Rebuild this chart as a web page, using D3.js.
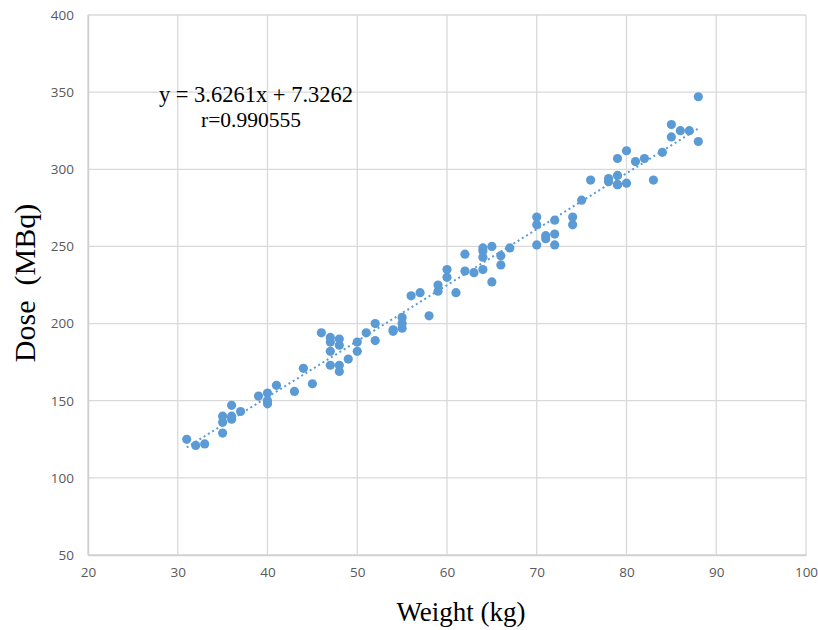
<!DOCTYPE html>
<html>
<head>
<meta charset="utf-8">
<script src="https://cdn.jsdelivr.net/npm/d3@7"></script>
<style>
  html, body { margin: 0; padding: 0; background: #fff; }
  svg { display: block; }
</style>
</head>
<body>
<script>
// ---- data ----
const weights = [31,32,33,35,35,35,36,36,36,37,39,40,40,40,41,43,44,45,46,47,47,47,47,48,48,48,48,49,50,50,51,52,52,54,54,55,55,55,56,57,58,59,59,60,60,61,62,62,63,64,64,64,64,65,65,66,66,67,70,70,70,71,71,72,72,72,74,74,75,76,78,78,79,79,79,79,80,80,81,82,83,84,85,85,86,87,88,88];
const doses   = [125,121,122,129,136,140,147,140,138,143,153,155,150,148,160,156,171,161,194,191,188,182,173,190,186,173,169,177,188,182,194,200,189,195,196,204,200,197,218,220,205,225,221,235,230,220,245,234,233,249,247,243,235,250,227,244,238,249,269,264,251,257,255,267,258,251,269,264,280,293,294,292,307,296,290,290,312,291,305,307,293,311,329,321,325,325,347,318];
const xTicks = [20,30,40,50,60,70,80,90,100];
const yTicks = [50,100,150,200,250,300,350,400];
const slope = 3.6261, intercept = 7.3262;
const equationText = "y = 3.6261x + 7.3262";
const rText = "r=0.990555";
const xTitle = "Weight (kg)";
const yTitle = "Dose  (MBq)";

const W = 818, H = 630;
const m = {left: 88, right: 12, top: 15, bottom: 75};
const svg = d3.select("body").append("svg").attr("width", W).attr("height", H);

const x = d3.scaleLinear().domain([20, 100]).range([m.left, W - m.right]);
const y = d3.scaleLinear().domain([50, 400]).range([H - m.bottom, m.top]);

const gridColor = "#d9d9d9";
const tickColor = "#595959";
const dotColor = "#5b9bd5";

// gridlines
svg.append("g").selectAll("line.v").data(xTicks).join("line")
  .attr("x1", d => x(d)).attr("x2", d => x(d))
  .attr("y1", y(400)).attr("y2", y(50))
  .attr("stroke", gridColor).attr("stroke-width", 1.3);
svg.append("g").selectAll("line.h").data(yTicks).join("line")
  .attr("x1", x(20)).attr("x2", x(100))
  .attr("y1", d => y(d)).attr("y2", d => y(d))
  .attr("stroke", gridColor).attr("stroke-width", 1.3);

// axes
const xAxis = d3.axisBottom(x).tickValues(xTicks).tickSize(0).tickPadding(12);
const gx = svg.append("g").attr("transform", `translate(0,${y(50)})`).call(xAxis);
gx.select(".domain").attr("stroke", "#cfcfcf").attr("stroke-width", 1.5);
gx.selectAll("text").attr("fill", tickColor).style("font-family", "'Open Sans', 'Noto Sans', sans-serif").style("font-size", "13.5px");

const yAxis = d3.axisLeft(y).tickValues(yTicks).tickSize(0).tickPadding(14);
const gy = svg.append("g").attr("transform", `translate(${x(20)},0)`).call(yAxis);
gy.select(".domain").attr("stroke", "#cfcfcf").attr("stroke-width", 1.5);
gy.selectAll("text").attr("fill", tickColor).style("font-family", "'Open Sans', 'Noto Sans', sans-serif").style("font-size", "13.5px");

// trendline (dotted)
const xMin = d3.min(weights), xMax = d3.max(weights);
svg.append("line")
  .attr("x1", x(xMin)).attr("y1", y(slope * xMin + intercept))
  .attr("x2", x(xMax)).attr("y2", y(slope * xMax + intercept))
  .attr("stroke", dotColor).attr("stroke-width", 2)
  .attr("stroke-dasharray", "2,3");

// points
svg.append("g").selectAll("circle").data(weights.map((w, i) => [w, doses[i]])).join("circle")
  .attr("cx", d => x(d[0])).attr("cy", d => y(d[1]))
  .attr("r", 4.6).attr("fill", dotColor);

// equation text
const serif = "'Liberation Serif', 'Times New Roman', serif";
svg.append("text").attr("x", 256).attr("y", 102).attr("text-anchor", "middle")
  .style("font-family", serif).style("font-size", "22.5px")
  .attr("fill", "#000").text(equationText);
svg.append("text").attr("x", 251).attr("y", 127).attr("text-anchor", "middle")
  .style("font-family", serif).style("font-size", "21.5px").attr("fill", "#000").text(rText);

// axis titles
svg.append("text").attr("x", 461).attr("y", 621).attr("text-anchor", "middle")
  .style("font-family", serif).style("font-size", "27px").attr("fill", "#000").text(xTitle);
svg.append("text").attr("transform", "translate(35,283) rotate(-90)").attr("text-anchor", "middle")
  .style("font-family", serif).style("font-size", "30px").style("white-space", "pre")
  .attr("fill", "#000").text(yTitle);
</script>
</body>
</html>
